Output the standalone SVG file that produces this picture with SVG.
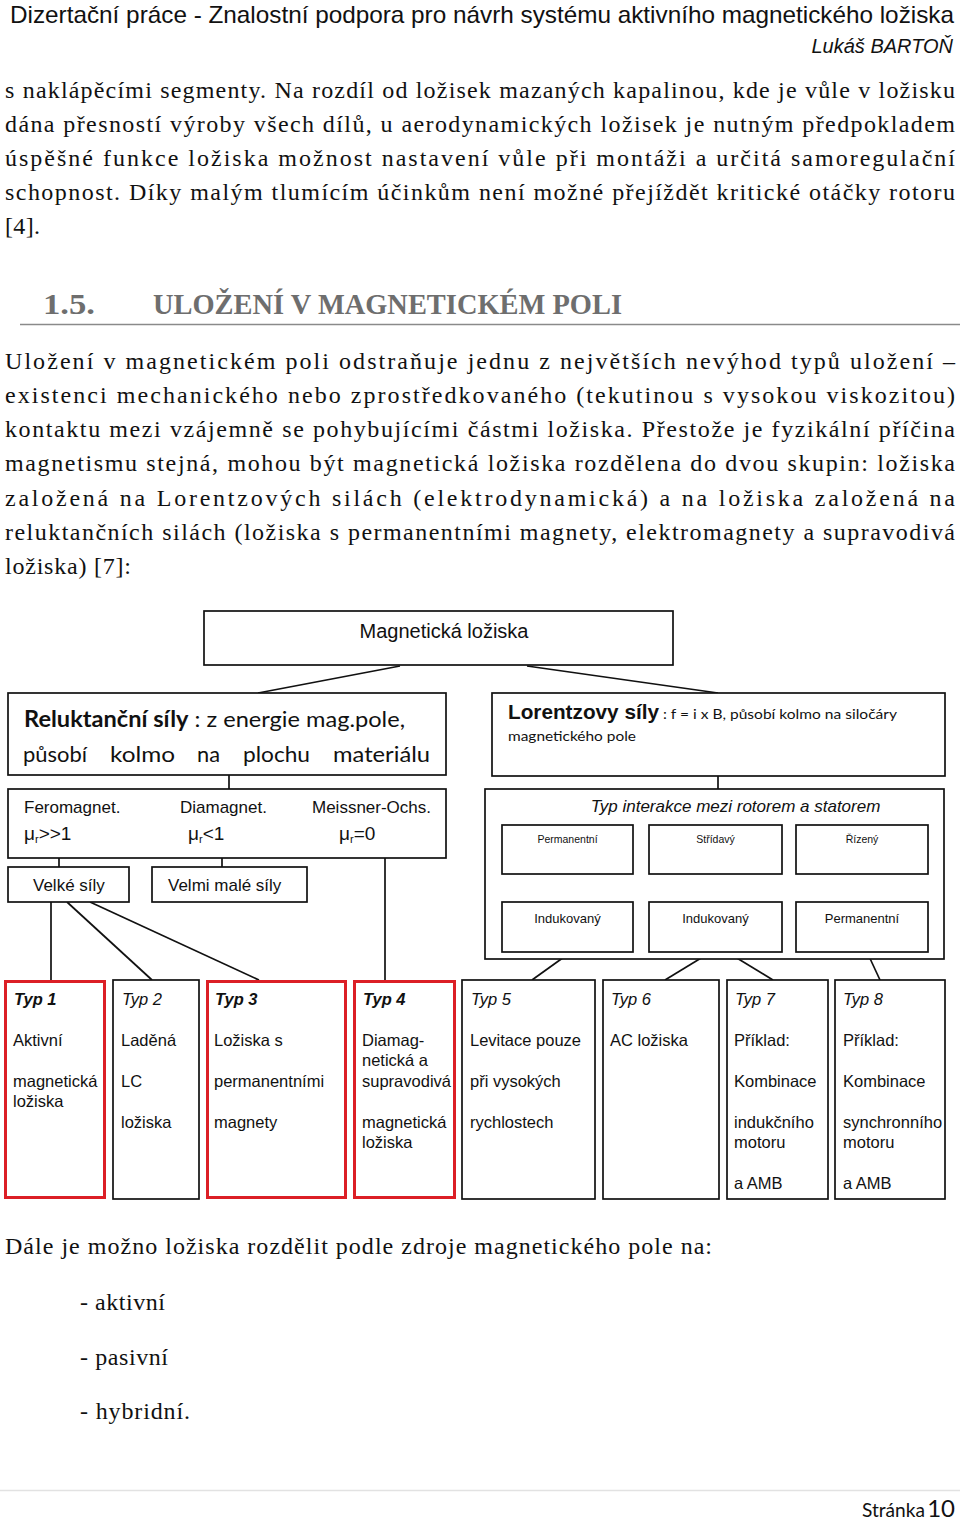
<svg xmlns="http://www.w3.org/2000/svg" width="960" height="1520" viewBox="0 0 960 1520">
<defs>
<style>
.bt{font-family:"Liberation Serif","Times New Roman",serif;font-size:24px;fill:#111}
.hd{font-family:"Liberation Serif",serif;font-size:29px;font-weight:bold;fill:#6e6e6e}
.sn{font-family:"Liberation Sans",Arial,sans-serif;fill:#111}
.cal{font-family:Lato,"Open Sans",sans-serif;fill:#111}
.box{fill:#fff;stroke:#111;stroke-width:1.7}
.red{fill:#fff;stroke:#dc1f26;stroke-width:3}
.conn line{stroke:#111;stroke-width:1.7}
.typ{font-family:"Liberation Sans",Arial,sans-serif;font-size:16.5px;font-style:italic;fill:#111}
.tx{font-family:"Liberation Sans",Arial,sans-serif;font-size:16.5px;fill:#111}
</style>
<marker id="ah" viewBox="0 0 10 10" refX="10" refY="5" markerWidth="4" markerHeight="4" orient="auto-start-reverse" markerUnits="strokeWidth">
<path d="M0,0 L10,5 L0,10 z" fill="#111"/>
</marker>
</defs>
<rect x="0" y="0" width="960" height="1520" fill="#fff"/>

<g id="page-header">
<text class="sn" x="10" y="23" font-size="24" textLength="944" lengthAdjust="spacingAndGlyphs" fill="#222">Dizertační práce - Znalostní podpora pro návrh systému aktivního magnetického ložiska</text>
<text class="sn" x="953" y="53" font-size="20" font-style="italic" text-anchor="end" fill="#222">Lukáš BARTOŇ</text>
</g>

<g id="paragraph-1">
<text class="bt" x="5" y="98" textLength="950" lengthAdjust="spacing">s naklápěcími segmenty. Na rozdíl od ložisek mazaných kapalinou, kde je vůle v ložisku</text>
<text class="bt" x="5" y="132" textLength="950" lengthAdjust="spacing">dána přesností výroby všech dílů, u aerodynamických ložisek je nutným předpokladem</text>
<text class="bt" x="5" y="166" textLength="950" lengthAdjust="spacing">úspěšné funkce ložiska možnost nastavení vůle při montáži a určitá samoregulační</text>
<text class="bt" x="5" y="200" textLength="950" lengthAdjust="spacing">schopnost. Díky malým tlumícím účinkům není možné přejíždět kritické otáčky rotoru</text>
<text class="bt" x="5" y="234" textLength="35" lengthAdjust="spacing">[4].</text>
</g>

<g id="heading">
<text class="hd" x="43" y="314" textLength="52" lengthAdjust="spacingAndGlyphs">1.5.</text>
<text class="hd" x="153" y="314" textLength="469" lengthAdjust="spacingAndGlyphs">ULOŽENÍ V MAGNETICKÉM POLI</text>
<line x1="20" y1="324.5" x2="960" y2="324.5" stroke="#8a8a8a" stroke-width="1.5"/>
</g>

<g id="paragraph-2">
<text class="bt" x="5" y="369" textLength="950" lengthAdjust="spacing">Uložení v magnetickém poli odstraňuje jednu z největších nevýhod typů uložení –</text>
<text class="bt" x="5" y="403" textLength="950" lengthAdjust="spacing">existenci mechanického nebo zprostředkovaného (tekutinou s vysokou viskozitou)</text>
<text class="bt" x="5" y="437" textLength="950" lengthAdjust="spacing">kontaktu mezi vzájemně se pohybujícími částmi ložiska. Přestože je fyzikální příčina</text>
<text class="bt" x="5" y="471" textLength="950" lengthAdjust="spacing">magnetismu stejná, mohou být magnetická ložiska rozdělena do dvou skupin: ložiska</text>
<text class="bt" x="5" y="506" textLength="950" lengthAdjust="spacing">založená na Lorentzových silách (elektrodynamická) a na ložiska založená na</text>
<text class="bt" x="5" y="540" textLength="950" lengthAdjust="spacing">reluktančních silách (ložiska s permanentními magnety, elektromagnety a supravodivá</text>
<text class="bt" x="5" y="574" textLength="126" lengthAdjust="spacing">ložiska) [7]:</text>
</g>

<g class="conn" id="connectors">
<line x1="400" y1="666" x2="258" y2="693"/>
<line x1="527" y1="666" x2="718" y2="693"/>
<line x1="229" y1="775" x2="229" y2="789"/>
<line x1="718" y1="776" x2="718" y2="789"/>
<line x1="59" y1="858" x2="59" y2="867"/>
<line x1="222" y1="858" x2="222" y2="867"/>
<line x1="385" y1="858" x2="385" y2="980"/>
<line x1="51" y1="902" x2="51" y2="980"/>
<line x1="67" y1="902" x2="152" y2="980"/>
<line x1="90" y1="902" x2="259" y2="980"/>
<line x1="571" y1="952" x2="532" y2="980"/>
<line x1="711" y1="952" x2="665" y2="980"/>
<line x1="727" y1="952" x2="773" y2="980"/>
<line x1="867" y1="952" x2="880" y2="980"/>
<line x1="572" y1="875" x2="572" y2="902" stroke-width="2" marker-start="url(#ah)" marker-end="url(#ah)"/>
<line x1="711" y1="875" x2="711" y2="902" stroke-width="2" marker-start="url(#ah)" marker-end="url(#ah)"/>
<line x1="867" y1="875" x2="867" y2="902" stroke-width="2" marker-start="url(#ah)" marker-end="url(#ah)"/>
</g>

<g id="node-magneticka-loziska">
<rect class="box" x="204" y="611" width="469" height="54"/>
<text class="sn" x="444" y="638" font-size="20" text-anchor="middle">Magnetická ložiska</text>
</g>

<g id="node-reluktancni">
<rect class="box" x="8" y="693" width="438" height="82"/>
<text class="cal" x="24" y="727" font-size="22" textLength="381" lengthAdjust="spacingAndGlyphs"><tspan font-weight="bold">Reluktanční síly</tspan> : z energie mag.pole,</text>
<text class="cal" x="23" y="762" font-size="22" textLength="64" lengthAdjust="spacingAndGlyphs">působí</text>
<text class="cal" x="110" y="762" font-size="22" textLength="65" lengthAdjust="spacingAndGlyphs">kolmo</text>
<text class="cal" x="197" y="762" font-size="22" textLength="23" lengthAdjust="spacingAndGlyphs">na</text>
<text class="cal" x="243" y="762" font-size="22" textLength="67" lengthAdjust="spacingAndGlyphs">plochu</text>
<text class="cal" x="333" y="762" font-size="22" textLength="97" lengthAdjust="spacingAndGlyphs">materiálu</text>
</g>

<g id="node-lorentz">
<rect class="box" x="492" y="693" width="453" height="83"/>
<text class="sn" x="508" y="719" font-size="20.5" font-weight="bold" textLength="151" lengthAdjust="spacingAndGlyphs">Lorentzovy síly</text>
<text class="cal" x="663" y="719" font-size="14" textLength="234" lengthAdjust="spacingAndGlyphs">: f = i x B, působí kolmo na siločáry</text>
<text class="cal" x="508" y="741" font-size="14" textLength="128" lengthAdjust="spacingAndGlyphs">magnetického pole</text>
</g>

<g id="node-materialy">
<rect class="box" x="8" y="789" width="438" height="69"/>
<text class="sn" x="24" y="813" font-size="17">Feromagnet.</text>
<text class="sn" x="180" y="813" font-size="17">Diamagnet.</text>
<text class="sn" x="312" y="813" font-size="17">Meissner-Ochs.</text>
<text class="sn" x="24" y="840" font-size="19">μ<tspan font-size="11" dy="3">r</tspan><tspan dy="-3">&gt;&gt;1</tspan></text>
<text class="sn" x="188" y="840" font-size="19">μ<tspan font-size="11" dy="3">r</tspan><tspan dy="-3">&lt;1</tspan></text>
<text class="sn" x="339" y="840" font-size="19">μ<tspan font-size="11" dy="3">r</tspan><tspan dy="-3">=0</tspan></text>
</g>

<g id="node-velke-sily">
<rect class="box" x="8" y="867" width="121" height="35"/>
<text class="sn" x="33" y="891" font-size="17">Velké síly</text>
</g>

<g id="node-velmi-male-sily">
<rect class="box" x="152" y="867" width="155" height="35"/>
<text class="sn" x="168" y="891" font-size="17">Velmi malé síly</text>
</g>

<g id="node-interakce">
<rect class="box" x="485" y="789" width="459" height="170"/>
<text class="sn" x="735.5" y="812" font-size="17" font-style="italic" text-anchor="middle">Typ interakce mezi rotorem a statorem</text>
</g>

<g id="node-permanentni-1">
<rect class="box" x="502" y="825" width="131" height="49"/>
<text class="sn" x="567.5" y="843" font-size="10.5" text-anchor="middle">Permanentní</text>
</g>
<g id="node-stridavy">
<rect class="box" x="649" y="825" width="133" height="49"/>
<text class="sn" x="715.5" y="843" font-size="10.5" text-anchor="middle">Střídavý</text>
</g>
<g id="node-rizeny">
<rect class="box" x="796" y="825" width="132" height="49"/>
<text class="sn" x="862" y="843" font-size="10.5" text-anchor="middle">Řízený</text>
</g>
<g id="node-indukovany-1">
<rect class="box" x="502" y="902" width="131" height="50"/>
<text class="sn" x="567.5" y="923" font-size="13" text-anchor="middle">Indukovaný</text>
</g>
<g id="node-indukovany-2">
<rect class="box" x="649" y="902" width="133" height="50"/>
<text class="sn" x="715.5" y="923" font-size="13" text-anchor="middle">Indukovaný</text>
</g>
<g id="node-permanentni-2">
<rect class="box" x="796" y="902" width="132" height="50"/>
<text class="sn" x="862" y="923" font-size="13" text-anchor="middle">Permanentní</text>
</g>

<g id="node-typ1">
<rect class="red" x="5.5" y="981.5" width="99" height="216"/>
<text class="typ" x="14" y="1005" font-weight="bold">Typ 1</text>
<text class="tx" x="13" y="1046">Aktivní</text>
<text class="tx" x="13" y="1087">magnetická</text>
<text class="tx" x="13" y="1107">ložiska</text>
</g>
<g id="node-typ2">
<rect class="box" x="113" y="980" width="86" height="219"/>
<text class="typ" x="122" y="1005">Typ 2</text>
<text class="tx" x="121" y="1046">Laděná</text>
<text class="tx" x="121" y="1087">LC</text>
<text class="tx" x="121" y="1128">ložiska</text>
</g>
<g id="node-typ3">
<rect class="red" x="207.5" y="981.5" width="138" height="216"/>
<text class="typ" x="215" y="1005" font-weight="bold">Typ 3</text>
<text class="tx" x="214" y="1046">Ložiska s</text>
<text class="tx" x="214" y="1087">permanentními</text>
<text class="tx" x="214" y="1128">magnety</text>
</g>
<g id="node-typ4">
<rect class="red" x="354.5" y="981.5" width="100" height="216"/>
<text class="typ" x="363" y="1005" font-weight="bold">Typ 4</text>
<text class="tx" x="362" y="1046">Diamag-</text>
<text class="tx" x="362" y="1066">netická a</text>
<text class="tx" x="362" y="1087">supravodivá</text>
<text class="tx" x="362" y="1128">magnetická</text>
<text class="tx" x="362" y="1148">ložiska</text>
</g>
<g id="node-typ5">
<rect class="box" x="462" y="980" width="133" height="219"/>
<text class="typ" x="471" y="1005">Typ 5</text>
<text class="tx" x="470" y="1046">Levitace pouze</text>
<text class="tx" x="470" y="1087">při vysokých</text>
<text class="tx" x="470" y="1128">rychlostech</text>
</g>
<g id="node-typ6">
<rect class="box" x="603" y="980" width="116" height="219"/>
<text class="typ" x="611" y="1005">Typ 6</text>
<text class="tx" x="610" y="1046">AC ložiska</text>
</g>
<g id="node-typ7">
<rect class="box" x="727" y="980" width="101" height="219"/>
<text class="typ" x="735" y="1005">Typ 7</text>
<text class="tx" x="734" y="1046">Příklad:</text>
<text class="tx" x="734" y="1087">Kombinace</text>
<text class="tx" x="734" y="1128">indukčního</text>
<text class="tx" x="734" y="1148">motoru</text>
<text class="tx" x="734" y="1189">a AMB</text>
</g>
<g id="node-typ8">
<rect class="box" x="835" y="980" width="110" height="219"/>
<text class="typ" x="843" y="1005">Typ 8</text>
<text class="tx" x="843" y="1046">Příklad:</text>
<text class="tx" x="843" y="1087">Kombinace</text>
<text class="tx" x="843" y="1128">synchronního</text>
<text class="tx" x="843" y="1148">motoru</text>
<text class="tx" x="843" y="1189">a AMB</text>
</g>

<g id="paragraph-3">
<text class="bt" x="5" y="1254" textLength="707" lengthAdjust="spacing">Dále je možno ložiska rozdělit podle zdroje magnetického pole na:</text>
<text class="bt" x="80" y="1310" textLength="85" lengthAdjust="spacing">- aktivní</text>
<text class="bt" x="80" y="1365" textLength="88" lengthAdjust="spacing">- pasivní</text>
<text class="bt" x="80" y="1419" textLength="110" lengthAdjust="spacing">- hybridní.</text>
</g>

<g id="page-footer">
<line x1="0" y1="1490.5" x2="960" y2="1490.5" stroke="#e2e2e2" stroke-width="1.5"/>
<text class="cal" x="862" y="1517" font-size="20" textLength="63" lengthAdjust="spacingAndGlyphs">Stránka</text>
<text class="cal" x="955" y="1517" font-size="24" text-anchor="end">10</text>
</g>
</svg>
